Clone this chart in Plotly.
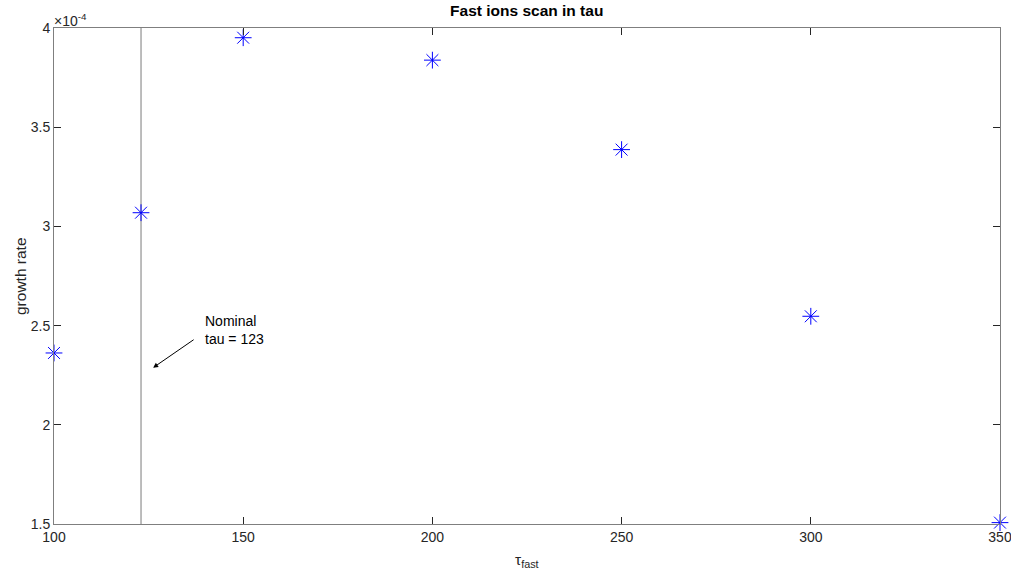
import plotly.graph_objects as go

# Fast-ion slowing-down time scan
tau_fast = [100, 123, 150, 200, 250, 300, 350]
growth_rate = [2.362e-4, 3.069e-4, 3.951e-4, 3.838e-4, 3.387e-4, 2.547e-4, 1.507e-4]

nominal_tau = 123

x_ticks = [100, 150, 200, 250, 300, 350]
y_ticks = [1.5e-4, 2.0e-4, 2.5e-4, 3.0e-4, 3.5e-4, 4.0e-4]
y_tick_text = ["1.5", "2", "2.5", "3", "3.5", "4"]

FONT = "Liberation Sans, Arial, Helvetica, sans-serif"
AXIS_COLOR = "#262626"
FRAME_COLOR = "#7f7f7f"
TICK_SIZE = 14
LABEL_SIZE = 15.5

fig = go.Figure()

# nominal tau marker line
fig.add_trace(go.Scatter(
    x=[nominal_tau, nominal_tau], y=[1.5e-4, 4.0e-4],
    mode="lines", line=dict(color="#7a7a7a", width=1),
    hoverinfo="skip", showlegend=False,
))

fig.add_trace(go.Scatter(
    x=tau_fast, y=growth_rate, mode="markers",
    marker=dict(symbol="asterisk-open", size=14, color="#0000ff",
                line=dict(color="#0000ff", width=1)),
    cliponaxis=False, showlegend=False,
))

axis_common = dict(
    showgrid=False, zeroline=False, showline=True, mirror="ticks",
    linecolor=FRAME_COLOR, linewidth=1,
    ticks="inside", ticklen=7, tickcolor=AXIS_COLOR, tickwidth=1,
    tickfont=dict(family=FONT, size=TICK_SIZE, color=AXIS_COLOR),
    automargin=False, ticklabeloverflow="allow",
)

fig.update_layout(
    width=1011, height=571,
    margin=dict(l=54, r=11, t=28, b=47, autoexpand=False),
    paper_bgcolor="white", plot_bgcolor="white",
    font=dict(family=FONT, color=AXIS_COLOR),
    title=dict(text="<b>Fast ions scan in tau</b>", x=0.521, xanchor="center",
               y=0.981, yanchor="middle",
               font=dict(family=FONT, size=LABEL_SIZE, color="#000000")),
    xaxis=dict(range=[100, 350], tickvals=x_ticks, ticktext=[str(v) for v in x_ticks],
               **axis_common),
    yaxis=dict(range=[1.5e-4, 4.0e-4], tickvals=y_ticks, ticktext=y_tick_text,
               **axis_common),
    annotations=[
        # axis titles
        dict(x=0.5, y=0, xref="paper", yref="paper", xanchor="center", yanchor="top",
             text="τ<sub>fast</sub>", showarrow=False, yshift=-25,
             font=dict(family=FONT, size=LABEL_SIZE, color=AXIS_COLOR)),
        dict(x=0, y=0.5, xref="paper", yref="paper", xanchor="center", yanchor="middle",
             text="growth rate", textangle=-90, showarrow=False, xshift=-34,
             font=dict(family=FONT, size=LABEL_SIZE, color=AXIS_COLOR)),
        # exponent of the y axis
        dict(x=0, y=1, xref="paper", yref="paper", xanchor="left", yanchor="bottom",
             text="×10<sup>-4</sup>", showarrow=False, xshift=-2, yshift=-3,
             font=dict(family=FONT, size=TICK_SIZE, color=AXIS_COLOR)),
        # nominal tau callout
        dict(x=126.2, y=2.288e-4, xref="x", yref="y",
             ax=137.3, ay=2.434e-4, axref="x", ayref="y",
             text="", showarrow=True, arrowhead=2, arrowsize=1, arrowwidth=1,
             arrowcolor="#000000"),
        dict(x=139.4, y=2.48e-4, xref="x", yref="y", xanchor="left", yanchor="middle",
             text="Nominal<br>tau = 123", showarrow=False, align="left",
             font=dict(family=FONT, size=14, color="#000000")),
    ],
)

fig.write_html("out.html")
